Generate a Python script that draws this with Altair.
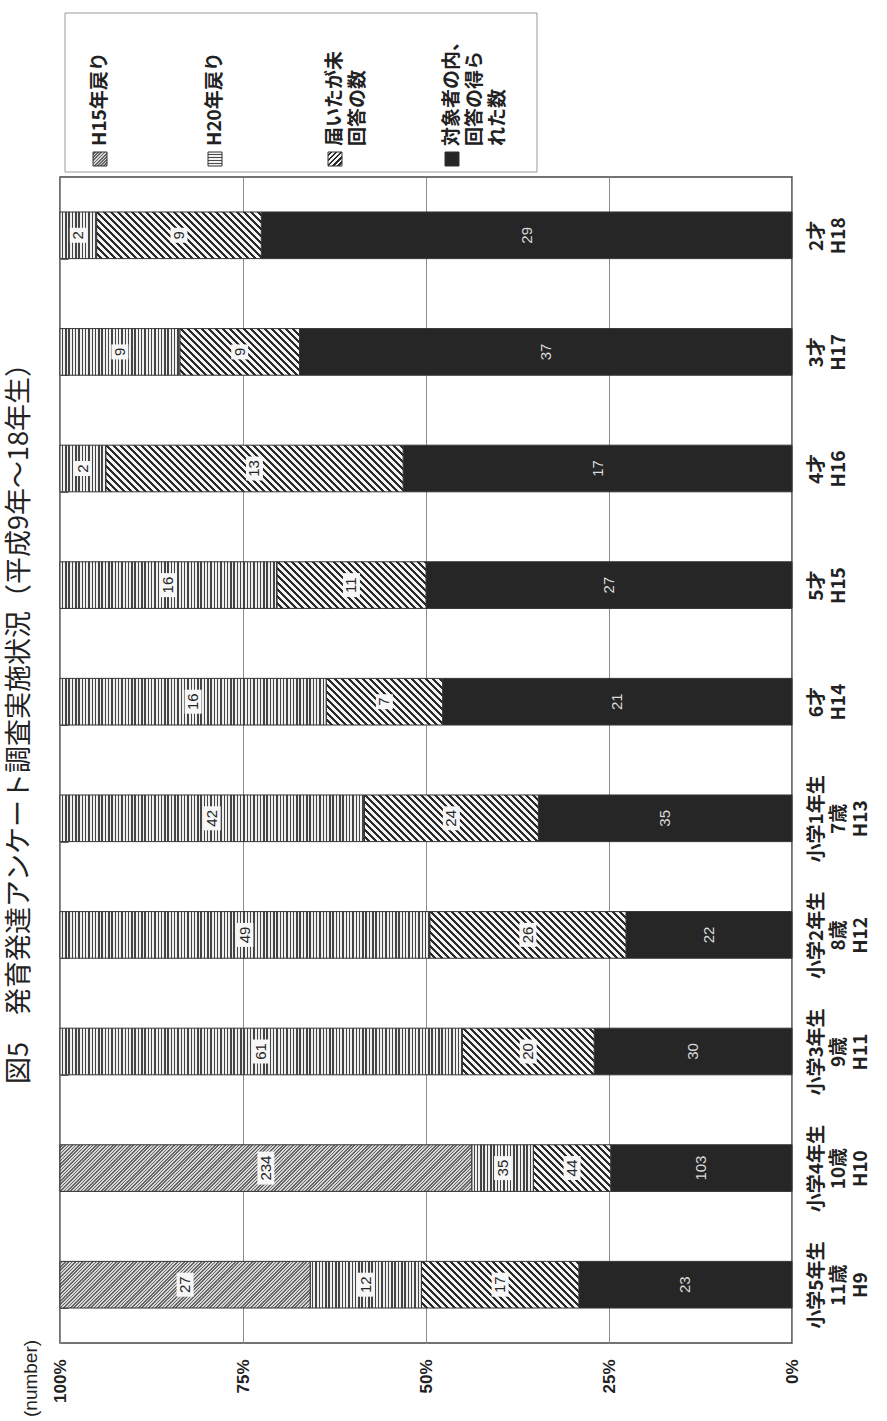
import altair as alt
import pandas as pd

# ---------------- data ----------------
cat_labels = ["小学5年生\n11歳\nH9", "小学4年生\n10歳\nH10", "小学3年生\n9歳\nH11",
              "小学2年生\n8歳\nH12", "小学1年生\n7歳\nH13", "6才\nH14", "5才\nH15",
              "4才\nH16", "3才\nH17", "2才\nH18"]
series_names = ["対象者の内、回答の得られた数", "届いたが未回答の数", "H20年戻り", "H15年戻り"]
answered = [23, 103, 30, 22, 35, 21, 27, 17, 37, 29]
unanswered = [17, 44, 20, 26, 24, 7, 11, 13, 9, 9]
returned_h20 = [12, 35, 61, 49, 42, 16, 16, 2, 9, 2]
returned_h15 = [27, 234, 0, 0, 0, 0, 0, 0, 0, 0]
legend_labels = ["H15年戻り", "H20年戻り", "届いたが未\n回答の数", "対象者の内、\n回答の得ら\nれた数"]
title_text = "図5　発育発達アンケート調査実施状況（平成9年～18年生）"
axis_unit = "(number)"
x_ticks = [0, 0.25, 0.5, 0.75, 1]

series_values = [answered, unanswered, returned_h20, returned_h15]
rows = []
for i, lab in enumerate(cat_labels):
    for k, vals in enumerate(series_values):
        if vals[i] > 0:
            rows.append({"ci": i, "cat": lab, "series": series_names[k], "order": k, "value": vals[i]})
df = pd.DataFrame(rows)
totals = [sum(v[i] for v in series_values) for i in range(len(cat_labels))]

# ---------------- geometry / style ----------------
PW, PH = 732, 1166
STEP = PH / len(cat_labels)
BW = STEP * 0.4
JP = "Noto Sans CJK JP"
LAT = "Liberation Sans"


def stops_from(step, frac, light, dark, tmax=1.0):
    out = []
    t = 0.0
    while t < tmax and t < 1:
        a = min(t + step * (1 - frac), 1.0)
        b = min(t + step, 1.0)
        out += [(t, light), (a, light), (a, dark), (b, dark)]
        t += step
    return [alt.GradientStop(color=c, offset=round(o, 5)) for o, c in out]


def grad_stripes(W, period, frac, light, dark, horizontal_lines=False):
    if horizontal_lines:
        return alt.LinearGradient(gradient="linear", stops=stops_from(period / W, frac, light, dark),
                                  x1=0, y1=0, x2=0, y2=1)
    return alt.LinearGradient(gradient="linear", stops=stops_from(period / W, frac, light, dark),
                              x1=0, y1=0, x2=1, y2=0)


def grad_diag(W, H, period, frac, light, dark, back=True):
    k = H / (H * H + W * W)
    tmax = min(1.0, (W + H) * k + 1e-6)
    st = stops_from(period * k, frac, light, dark, tmax)
    if back:
        return alt.LinearGradient(gradient="linear", stops=st, x1=0, y1=1, x2=W / H, y2=0)
    return alt.LinearGradient(gradient="linear", stops=st, x1=0, y1=0, x2=W / H, y2=1)


def fill_for(order, W, H):
    if order == 0:
        return "#262626"
    if order == 1:
        return grad_diag(W, H, 7.0, 0.45, "#f4f4f4", "#2a2a2a", back=True)
    if order == 2:
        return grad_stripes(W, 3.3, 0.45, "#f0f0f0", "#444444")
    return grad_diag(W, H, 3.4, 0.5, "#d6d6d6", "#666666", back=False)


xs = alt.Scale(domain=[0, 1], reverse=True, nice=False, zero=False)
ys = alt.Scale(domain=list(reversed(cat_labels)), paddingInner=0.6, paddingOuter=0.3)

x_axis = alt.Axis(values=x_ticks, format=".0%", labelAngle=270, labelAlign="right",
                  labelBaseline="middle", labelFont=LAT, labelFontSize=17, labelFontWeight="bold",
                  labelColor="#222", labelPadding=16, ticks=False, tickSize=0, domain=False,
                  grid=True, gridColor="#8c8c8c", gridWidth=1, title=None)
y_axis = alt.Axis(orient="right", labelExpr="split(datum.label, '\\n')", labelAngle=270,
                  labelAlign="center", labelBaseline="top", labelFont=JP, labelFontSize=19,
                  labelFontWeight="bold", labelLineHeight=22, labelPadding=15, labelColor="#222",
                  labelLimit=300, ticks=False, tickSize=0, domain=False, grid=True,
                  tickBand="extent", gridDash=[8, 3000], gridColor="#666", gridWidth=1, title=None)


def X(field):
    return alt.X(f"{field}:Q", scale=xs, axis=x_axis)


Y = alt.Y("cat:N", scale=ys, axis=y_axis, sort=list(reversed(cat_labels)))

base = alt.Chart(df).transform_stack(
    stack="value", groupby=["cat"], as_=["v0", "v1"], offset="normalize",
    sort=[alt.SortField("order", order="ascending")])

layers = []
for r in rows:
    W = r["value"] / totals[r["ci"]] * PW
    layers.append(
        base.transform_filter(f"datum.ci == {r['ci']} && datum.order == {r['order']}")
        .mark_bar(fill=fill_for(r["order"], W, BW), stroke="#333", strokeWidth=1)
        .encode(x=X("v0"), x2="v1:Q", y=Y)
    )

# white boxes behind numbers in patterned segments
boxes = (base.transform_filter("datum.order > 0")
         .transform_calculate(b0=f"(datum.v0 + datum.v1) / 2 - 8.5 / {PW}",
                              b1=f"(datum.v0 + datum.v1) / 2 + 8.5 / {PW}",
                              bh="length(toString(datum.value)) * 9 + 6")
         .mark_bar(fill="#f7f7f7", strokeWidth=0)
         .encode(x=X("b0"), x2="b1:Q", y=Y, size=alt.Size("bh:Q", scale=None, legend=None)))
layers.append(boxes)

numbers = (base.transform_calculate(mid="(datum.v0 + datum.v1) / 2",
                                    tc="datum.order == 0 ? '#dcdcdc' : '#262626'")
           .mark_text(angle=270, align="center", baseline="middle", font=LAT, fontSize=15)
           .encode(x=X("mid"), y=Y, text="value:Q", color=alt.Color("tc:N", scale=None, legend=None)))
layers.append(numbers)

# ---------------- legend (rotated, drawn manually) ----------------
one = alt.Data(values=[{"k": 0}])
layers.append(alt.Chart(one).mark_rect(fill="white", stroke="#999", strokeWidth=1).encode(
    x=alt.value(5), x2=alt.value(477), y=alt.value(-164), y2=alt.value(-5)))
leg_x = [40, 155, 275, 392]
leg_order = [3, 2, 1, 0]
for cx, o, lab in zip(leg_x, leg_order, legend_labels):
    if o == 0:
        f = "#262626"
    elif o == 1:
        f = grad_diag(14, 14, 5.0, 0.45, "#f4f4f4", "#2a2a2a", back=False)
    elif o == 2:
        f = grad_stripes(14, 3.0, 0.45, "#f2f2f2", "#4a4a4a", horizontal_lines=True)
    else:
        f = grad_diag(14, 14, 3.2, 0.5, "#d6d6d6", "#666666", back=False)
    layers.append(alt.Chart(one).mark_rect(fill=f, stroke="#333", strokeWidth=1).encode(
        x=alt.value(cx - 7), x2=alt.value(cx + 7), y=alt.value(-25), y2=alt.value(-11)))
    layers.append(alt.Chart(one).mark_text(angle=270, align="left", baseline="top", font=JP,
                                           fontSize=19, fontWeight="bold", lineHeight=23,
                                           lineBreak="\n", color="#222").encode(
        x=alt.value(cx - 9.5), y=alt.value(-31), text=alt.value(lab)))

# ---------------- title and unit ----------------
layers.append(alt.Chart(one).mark_text(angle=270, align="center", baseline="middle", font=JP,
                                       fontSize=27, color="#222").encode(
    x=alt.value(-40), y=alt.value(540), text=alt.value(title_text)))
layers.append(alt.Chart(one).mark_text(angle=270, align="left", baseline="middle", font=LAT,
                                       fontSize=19, color="#222").encode(
    x=alt.value(-29), y=alt.value(1240), text=alt.value(axis_unit)))

chart = (alt.layer(*layers)
         .properties(width=PW, height=PH, background="white",
                     padding={"left": 60, "top": 177, "right": 95, "bottom": 78},
                     autosize=alt.AutoSizeParams(type="none"))
         .configure_view(stroke="#444", strokeWidth=1.5))

chart.save("out.html", embed_options={"renderer": "svg", "actions": False})
